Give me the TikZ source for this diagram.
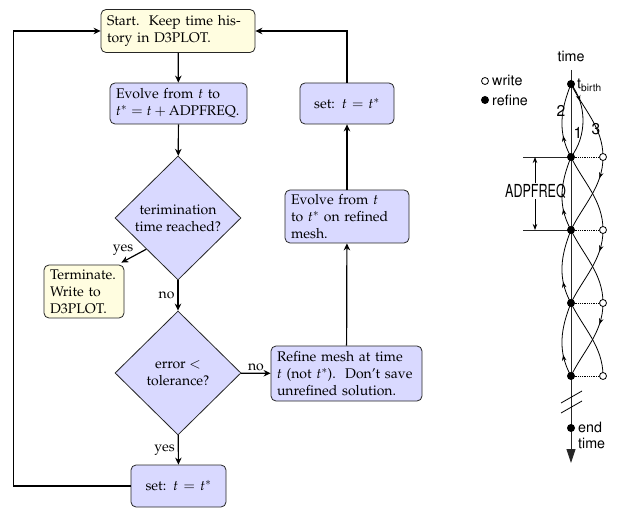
\documentclass[tikz,border=0pt]{standalone}
\usepackage[T1]{fontenc}
\usepackage{mathpazo}
\usepackage[scaled=0.92]{helvet}
\usetikzlibrary{shapes.geometric,arrows.meta,decorations.markings,calc}
\begin{document}
\begin{tikzpicture}[x=1pt,y=-1pt, font=\fontsize{14}{17}\selectfont,
 box/.style={draw=black!85, line width=0.8pt, rounded corners=5pt, inner xsep=6pt, inner ysep=2pt},
 bbox/.style={box, fill=blue!15},
 ybox/.style={box, fill=yellow!12},
 dia/.style={diamond, draw=black!85, line width=0.8pt, fill=blue!15, inner sep=0pt, minimum width=126pt, minimum height=124pt, align=center},
 arr/.style={-{Stealth[length=7pt,width=6.5pt]}, line width=1.2pt},
 sf/.style={font=\sffamily\fontsize{15.5}{16}\selectfont},
 ax/.style={line width=0.9pt, black!85},
 cv/.style={line width=0.8pt},
 marr/.style={postaction={decorate}, decoration={markings, mark=at position #1 with {\arrow{Stealth[length=6pt,width=4.5pt]}}}},
]
\useasboundingbox[fill=white] (0,0) rectangle (626,518);

% ---------- flowchart ----------
\node[ybox, text width=142pt, minimum height=43pt, align=left] (start) at (178,31)
  {Start.\ \ Keep time his-\\tory in D3PLOT.};
\node[bbox, text width=125pt, minimum height=41pt, align=left] (evolve) at (178.5,103.5)
  {Evolve from $t$ to\\$t^* = t + \mathrm{ADPFREQ}$.};
\node[dia] (d1) at (178,218) {terimination\\time reached?};
\node[ybox, text width=68pt, minimum height=53pt, align=left] (term) at (84,291.5)
  {Terminate.\\Write to\\D3PLOT.};
\node[dia] (d2) at (178,373) {error $<$\\tolerance?};
\node[bbox, text width=139pt, minimum height=55pt, align=left] (refine) at (346.5,373.5)
  {Refine mesh at time\\$t$ (not $t^*$).\ \ Don't save\\unrefined solution.};
\node[bbox, text width=83pt, minimum height=42pt, align=center] (set1) at (178.5,486)
  {set: $t = t^*$};
\node[bbox, text width=112pt, minimum height=53pt, align=left] (evolve2) at (347,216.5)
  {Evolve from $t$\\to $t^*$ on refined\\mesh.};
\node[bbox, text width=82pt, minimum height=41pt, align=center] (set2) at (347,103.5)
  {set: $t = t^*$};

\draw[arr] (start) -- (evolve);
\draw[arr] (evolve) -- (d1);
\draw[arr] (d1) -- node[left, inner sep=3pt] {no} (d2);
\coordinate (tne) at ($(term.north east)+(-3,-2)$);
\draw[arr] (d1.south west) -- node[above left, inner sep=0pt, pos=0.5] {yes} (tne);
\draw[arr] (d2) -- node[above, inner sep=2pt] {no} (refine);
\draw[arr] (d2) -- node[left, inner sep=3pt] {yes} (set1);
\draw[arr] (set1.west) -- ++(-117,0) |- (start.west);
\draw[arr] (refine) -- (evolve2);
\draw[arr] (evolve2) -- (set2);
\draw[arr] (set2.north) |- (start.east);

% ---------- time diagram ----------
\draw[ax, -{Triangle[length=14pt,width=9pt]}] (571,70) -- (571,463);
\draw[ax] (523,157) -- (571,157);
\draw[ax] (523,230) -- (571,230);
\draw[line width=0.8pt, {Stealth[length=6pt,width=4.5pt]}-{Stealth[length=6pt,width=4.5pt]}] (535,157) -- (535,230);
\node[fill=white, inner sep=1pt, font=\sffamily\fontsize{19.5}{19.5}\selectfont] (adp) at (535.5,191) {\scalebox{0.7}[1]{ADPFREQ}};

\foreach \a/\b in {84/157,157/230,230/303,303/376} {
  \draw[cv, marr=0.3] (571,\b) .. controls (557,\b-25) and (561,\a+25) .. (571,\a);
  \draw[cv] (571,\a) .. controls (583,\a+25) and (603,\b-30) .. (603,\b);
}
\foreach \a/\b in {157/230,230/303,303/376} {
  \draw[cv, marr=0.27] (603,\a) .. controls (603,\a+30) and (583,\b-25) .. (571,\b);
}
\draw[cv, marr=0.25] (571,84) .. controls (587,105) and (587,136) .. (571,157);

\foreach \y in {157,230,303,376} {
  \draw[line width=0.8pt, densely dotted] (571,\y) -- (600,\y);
  \filldraw[fill=white, draw=black, line width=0.8pt] (603,\y) circle (3.5pt);
  \fill (571,\y) circle (4pt);
}
\fill (571,84) circle (4pt);
\fill (571,428) circle (4pt);

% break marks
\draw[line width=0.8pt] (561,403) -- (582,391);
\draw[line width=0.8pt] (561,413) -- (582,401);

% labels
\node[sf] (time) at (571,57) {time};
\node[sf, anchor=west, inner sep=0pt] (tb) at (577,85) {t\raisebox{-3.5pt}{\fontsize{11}{11}\selectfont birth}};
\node[sf, font=\sffamily\fontsize{17}{17}\selectfont] (l2) at (561,111) {2};
\node[sf, font=\sffamily\fontsize{17}{17}\selectfont] (l1) at (578,133) {1};
\node[sf, font=\sffamily\fontsize{17}{17}\selectfont] (l3) at (596,129) {3};
\node[sf, anchor=west, align=left, inner sep=0pt] (end) at (578,436) {end\\time};

\filldraw[fill=white, draw=black, line width=0.8pt] (485,81) circle (3.5pt);
\node[sf, anchor=west, inner sep=0pt] (lw) at (492,81) {write};
\fill (485,100) circle (4pt);
\node[sf, anchor=west, inner sep=0pt] (lr) at (492,100) {refine};
\end{tikzpicture}
\end{document}
